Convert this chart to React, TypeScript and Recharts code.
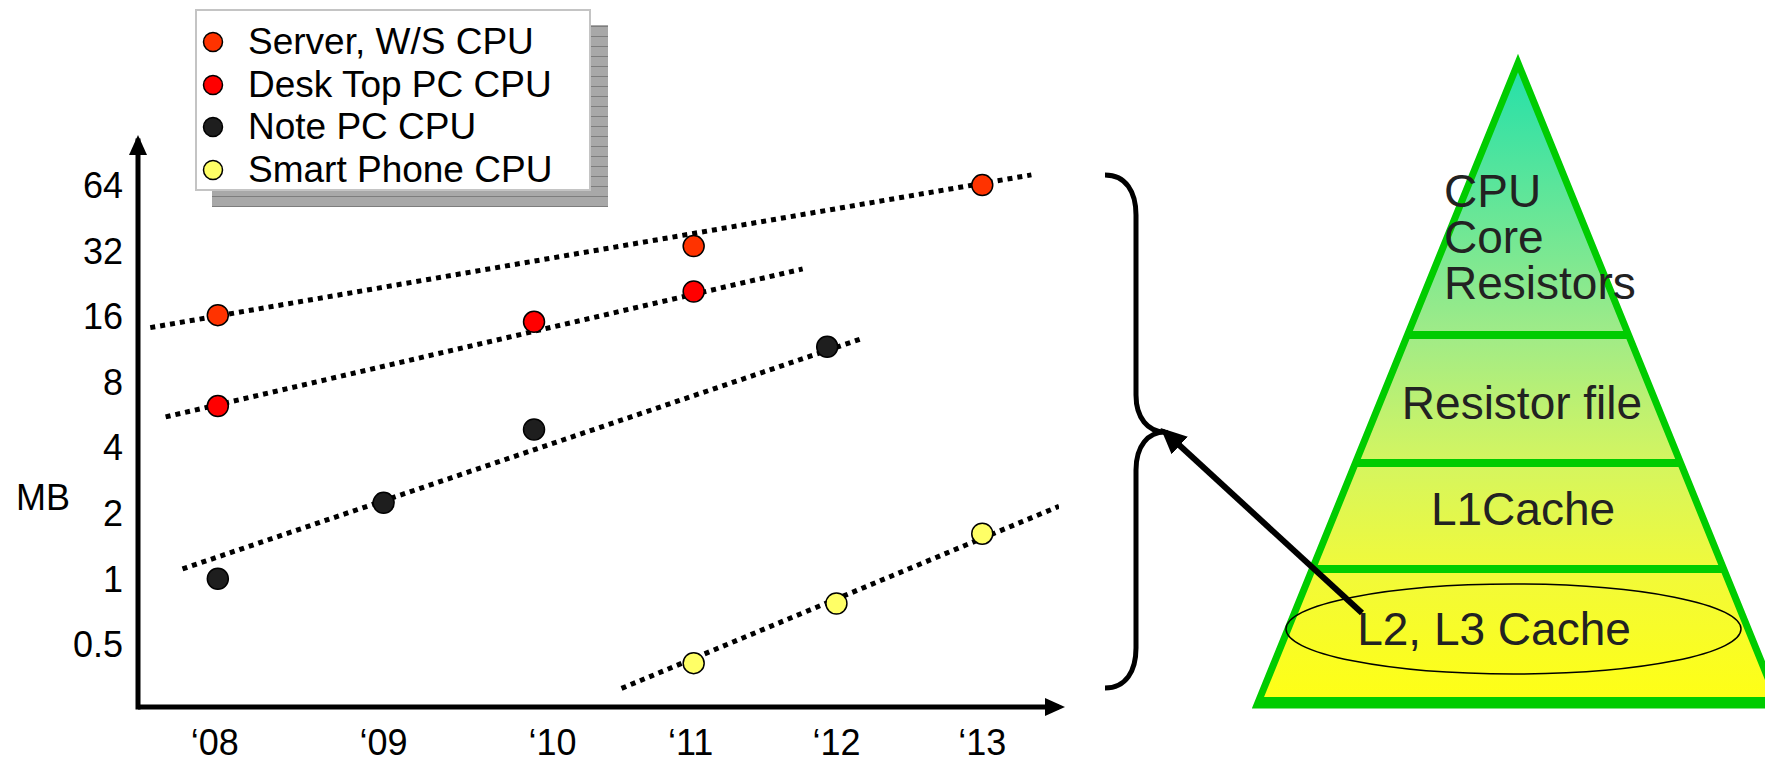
import React from 'react'
import {
  ComposedChart, Scatter, Line, XAxis, YAxis, Legend,
} from 'recharts'

const FONT = '"Liberation Sans", Arial, Helvetica, sans-serif'

// ── Data ─────────────────────────────────────────────────────────────────────
const X_TICKS  = [2008, 2009.1, 2010.2, 2011.1, 2012.05, 2013]
const X_LABELS = ['‘08', '‘09', '‘10', '‘11', '‘12', '‘13']
const MB_TICKS = [0.5, 1, 2, 4, 8, 16, 32, 64]

const SERVER_X  = [2008.02, 2011.12, 2013.0]
const SERVER_MB = [16.2, 33.6, 64]
const DESKTOP_X  = [2008.02, 2010.08, 2011.12]
const DESKTOP_MB = [6.2, 15.1, 20.8]
const NOTE_X  = [2008.02, 2009.1, 2010.08, 2011.99]
const NOTE_MB = [1.0, 2.23, 4.84, 11.6]
const PHONE_X  = [2011.12, 2012.05, 2013.0]
const PHONE_MB = [0.41, 0.77, 1.61]

// dotted trend lines: two end points each
const SERVER_TREND_X  = [2007.58, 2013.32]
const SERVER_TREND_MB = [14.2, 71.3]
const DESKTOP_TREND_X  = [2007.68, 2011.83]
const DESKTOP_TREND_MB = [5.53, 26.4]
const NOTE_TREND_X  = [2007.79, 2012.21]
const NOTE_TREND_MB = [1.11, 12.6]
const PHONE_TREND_X  = [2010.65, 2013.5]
const PHONE_TREND_MB = [0.314, 2.15]

const SERIES = [
  { name: 'Server, W/S CPU',  color: '#FF3300', x: SERVER_X,  y: SERVER_MB,  tx: SERVER_TREND_X,  ty: SERVER_TREND_MB },
  { name: 'Desk Top PC CPU',  color: '#FF0000', x: DESKTOP_X, y: DESKTOP_MB, tx: DESKTOP_TREND_X, ty: DESKTOP_TREND_MB },
  { name: 'Note PC CPU',      color: '#1E1E1E', x: NOTE_X,    y: NOTE_MB,    tx: NOTE_TREND_X,    ty: NOTE_TREND_MB },
  { name: 'Smart Phone CPU',  color: '#FFFF66', x: PHONE_X,   y: PHONE_MB,   tx: PHONE_TREND_X,   ty: PHONE_TREND_MB },
]
const SERIES_NAMES = SERIES.map((s) => s.name)

const zip = (xs: number[], ys: number[]) => xs.map((x, i) => ({ x, y: ys[i] }))

// pyramid geometry (diagram, not data)
const APEX = { x: 1518, y: 63 }
const BASE_Y = 705
const SLOPE = 0.4065
const BANDS = [335, 463, 569]
const sideX = (y: number, dir: number) => APEX.x + dir * SLOPE * (y - APEX.y)

function LegendBox({ payload }: any) {
  // keep only the scatter series, in the order they were declared
  const items = (payload ?? [])
    .filter((e: any) => e.type !== 'none' && SERIES_NAMES.includes(e.value))
    .sort((a: any, b: any) => SERIES_NAMES.indexOf(a.value) - SERIES_NAMES.indexOf(b.value))
  return (
    <div style={{ position: 'relative', width: 396, height: 182, fontFamily: FONT }}>
      {/* hatched drop shadow */}
      <div style={{
        position: 'absolute', left: 17, top: 16, width: 396, height: 182,
        background: 'repeating-linear-gradient(0deg, #7d7d7d 0px, #7d7d7d 1px, #a8a8a8 1px, #a8a8a8 10px)',
      }} />
      <div style={{
        position: 'absolute', left: 0, top: 0, width: 396, height: 182, boxSizing: 'border-box',
        border: '2px solid #c4c4c4', background: '#fff', padding: '10px 0 0 5px',
      }}>
        {items.map((e: any) => (
          <div key={e.value} style={{ display: 'flex', alignItems: 'center', height: 42.5 }}>
            <svg width={22} height={22}>
              <circle cx={11} cy={11} r={9.5} fill={e.color} stroke="#000" strokeWidth={1.5} />
            </svg>
            <span style={{ marginLeft: 24, fontSize: 37, lineHeight: '42px', color: '#000', whiteSpace: 'nowrap' }}>
              {e.value}
            </span>
          </div>
        ))}
      </div>
    </div>
  )
}

export default function App() {
  return (
    <div style={{ position: 'relative', width: 1773, height: 763, margin: -8, overflow: 'hidden', background: '#fff', fontFamily: FONT }}>
      {/* shared marker definitions (referenced by the chart axis lines too) */}
      <svg width={0} height={0} style={{ position: 'absolute' }}>
        <defs>
          <marker id="axisHead" markerUnits="userSpaceOnUse" viewBox="0 0 20 20"
            markerWidth={20} markerHeight={20} refX={14} refY={10} orient="auto-start-reverse">
            <path d="M0,1 L20,10 L0,19 Z" fill="#000" />
          </marker>
          <marker id="bigHead" markerUnits="userSpaceOnUse" viewBox="0 0 26 24"
            markerWidth={26} markerHeight={24} refX={20} refY={12} orient="auto">
            <path d="M0,0 L26,12 L0,24 Z" fill="#000" />
          </marker>
          <linearGradient id="pyrFill" gradientUnits="userSpaceOnUse" x1={0} y1={APEX.y} x2={0} y2={BASE_Y}>
            <stop offset="0%" stopColor="#22E0AA" />
            <stop offset="42%" stopColor="#9FEB88" />
            <stop offset="62%" stopColor="#D4F560" />
            <stop offset="80%" stopColor="#F2FA38" />
            <stop offset="100%" stopColor="#FFFF14" />
          </linearGradient>
        </defs>
      </svg>

      <div style={{ position: 'absolute', left: 0, top: 0 }}>
        <ComposedChart width={1773} height={763} margin={{ top: 141, right: 714, bottom: 0, left: 0 }}>
          <XAxis
            type="number" dataKey="x" domain={[2007.5, 2013.5]} ticks={X_TICKS} allowDataOverflow
            height={56} tickSize={0} tickMargin={22} tickLine={false} interval={0}
            axisLine={{ stroke: '#000', strokeWidth: 5, markerEnd: 'url(#axisHead)' }}
            tickFormatter={(v: number) => X_LABELS[X_TICKS.indexOf(v)] ?? ''}
            tick={{ fill: '#000', fontSize: 36, fontFamily: FONT }}
          />
          <YAxis
            type="number" dataKey="y" scale="log" domain={[0.258, 102]} ticks={MB_TICKS} allowDataOverflow
            width={138} tickSize={0} tickMargin={15} tickLine={false} interval={0}
            axisLine={{ stroke: '#000', strokeWidth: 5, strokeLinecap: 'square', markerStart: 'url(#axisHead)' }}
            tickFormatter={(v: number) => String(v)}
            tick={{ fill: '#000', fontSize: 36, fontFamily: FONT }}
            label={{ value: 'MB', position: 'insideLeft', offset: 16, dy: 73, fill: '#000', fontSize: 36, fontFamily: FONT }}
          />
          <Legend
            layout="vertical" align="center" verticalAlign="middle"
            wrapperStyle={{ left: 195, top: 9, width: 396, height: 182 }}
            content={LegendBox}
          />
          {SERIES.map((s) => (
            <Line
              key={s.name + '-trend'} data={zip(s.tx, s.ty)} dataKey="y" type="linear"
              stroke="#000" strokeWidth={5} strokeDasharray="5 5" dot={false} activeDot={false}
              legendType="none" isAnimationActive={false}
            />
          ))}
          {SERIES.map((s) => (
            <Scatter
              key={s.name} name={s.name} data={zip(s.x, s.y)} fill={s.color}
              isAnimationActive={false}
              shape={(p: any) => (
                <circle cx={p.cx} cy={p.cy} r={10.5} fill={s.color} stroke="#000" strokeWidth={1.5} />
              )}
            />
          ))}
        </ComposedChart>
      </div>

      {/* title (cut off at the top edge), brace, arrow and the memory pyramid */}
      <svg width={1773} height={763} style={{ position: 'absolute', left: 0, top: 0, pointerEvents: 'none' }}>
        <text x={483} y={-4.5} fontSize={54} fill="#333399" fontFamily={FONT}>Cache memory per CPU chip</text>

        <path
          d="M1105,175 C1126,175 1136,192 1136,215 L1136,395 C1136,418 1148,432 1165,432 C1148,432 1136,446 1136,470 L1136,648 C1136,671 1126,688 1105,688"
          fill="none" stroke="#000" strokeWidth={5}
        />

        <polygon
          points={`${APEX.x},${APEX.y} ${sideX(BASE_Y, -1)},${BASE_Y} ${sideX(BASE_Y, 1)},${BASE_Y}`}
          fill="url(#pyrFill)" stroke="#00CC00" strokeWidth={7} strokeLinejoin="miter"
        />
        <line x1={sideX(BASE_Y, -1)} y1={702.5} x2={1773} y2={702.5} stroke="#00CC00" strokeWidth={11} />
        {BANDS.map((y) => (
          <line key={y} x1={sideX(y, -1)} y1={y} x2={sideX(y, 1)} y2={y} stroke="#00CC00" strokeWidth={8} />
        ))}

        <g fill="#222" fontFamily={FONT} fontSize={46}>
          <text x={1522} y={419} textAnchor="middle">Resistor file</text>
          <text x={1523} y={525} textAnchor="middle">L1Cache</text>
          <text x={1494} y={645} textAnchor="middle">L2, L3 Cache</text>
        </g>
        <ellipse cx={1513.5} cy={629} rx={227.5} ry={45} fill="none" stroke="#000" strokeWidth={1.5} />

        <line x1={1362} y1={613} x2={1165} y2={432} stroke="#000" strokeWidth={6} markerEnd="url(#bigHead)" />
      </svg>

      {/* three-line label at the top of the pyramid, tight line spacing as in the slide */}
      <div style={{
        position: 'absolute', left: 1444, top: 168, fontSize: 46, lineHeight: '46px',
        color: '#222', fontFamily: FONT, whiteSpace: 'nowrap',
      }}>
        CPU<br />Core<br />Resistors
      </div>
    </div>
  )
}
